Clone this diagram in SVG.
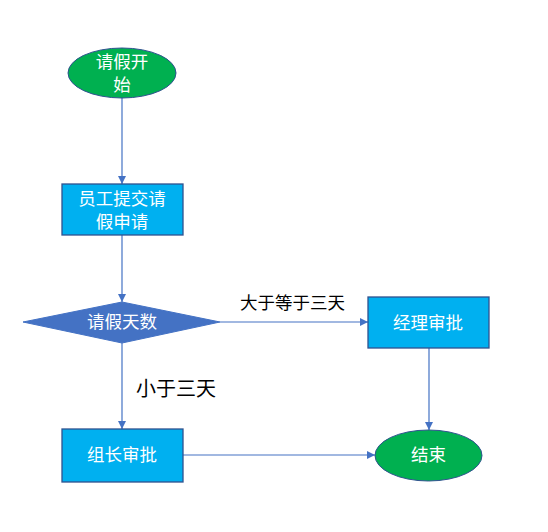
<svg xmlns="http://www.w3.org/2000/svg" width="548" height="532" viewBox="0 0 548 532">
<style>
.t{font-family:"Noto Sans CJK SC","Microsoft YaHei",sans-serif;font-size:17.5px;fill:#fff;text-anchor:middle}
.l{font-family:"Noto Sans CJK SC","Microsoft YaHei",sans-serif;fill:#000}
.c{stroke:#4472C4;stroke-width:1.2;fill:none}
.term{fill:#00B050;stroke:#2F528F;stroke-width:1}
.box{fill:#00B0F0;stroke:#2F528F;stroke-width:1.3}
</style>
<defs>
<marker id="a" viewBox="0 0 10 10" refX="10" refY="5" markerWidth="8" markerHeight="8" markerUnits="userSpaceOnUse" orient="auto">
<path d="M0,0 L10,5 L0,10 z" fill="#4472C4"/>
</marker>
</defs>
<rect width="548" height="532" fill="#fff"/>
<g id="connectors">
<line class="c" x1="122" y1="98" x2="122" y2="184" marker-end="url(#a)"/>
<line class="c" x1="122" y1="235" x2="122" y2="302" marker-end="url(#a)"/>
<line class="c" x1="220" y1="322" x2="368" y2="322" marker-end="url(#a)"/>
<line class="c" x1="122" y1="343" x2="122" y2="429" marker-end="url(#a)"/>
<line class="c" x1="429" y1="348" x2="429" y2="430" marker-end="url(#a)"/>
<line class="c" x1="183" y1="455" x2="375" y2="455" marker-end="url(#a)"/>
<text class="l" x="240" y="309" font-size="17.5">大于等于三天</text>
<text class="l" x="136" y="396" font-size="20">小于三天</text>
</g>
<g id="start">
<ellipse class="term" cx="122" cy="73" rx="54" ry="25"/>
<text class="t" x="122" y="68">请假开<tspan x="122" dy="23">始</tspan></text>
</g>
<g id="submit">
<rect class="box" x="62" y="184" width="121" height="51"/>
<text class="t" x="122" y="205">员工提交请<tspan x="122" dy="23">假申请</tspan></text>
</g>
<g id="decision">
<polygon points="122,302 220,322 122,343 23,322" fill="#4472C4" stroke="#4472C4" stroke-width="1"/>
<text class="t" x="122" y="328">请假天数</text>
</g>
<g id="manager">
<rect class="box" x="368" y="297" width="121" height="51"/>
<text class="t" x="428" y="329">经理审批</text>
</g>
<g id="leader">
<rect class="box" x="62" y="429" width="121" height="53"/>
<text class="t" x="122" y="461">组长审批</text>
</g>
<g id="end">
<ellipse class="term" cx="428.5" cy="455.5" rx="53.5" ry="25.5"/>
<text class="t" x="428.5" y="461">结束</text>
</g>
</svg>
